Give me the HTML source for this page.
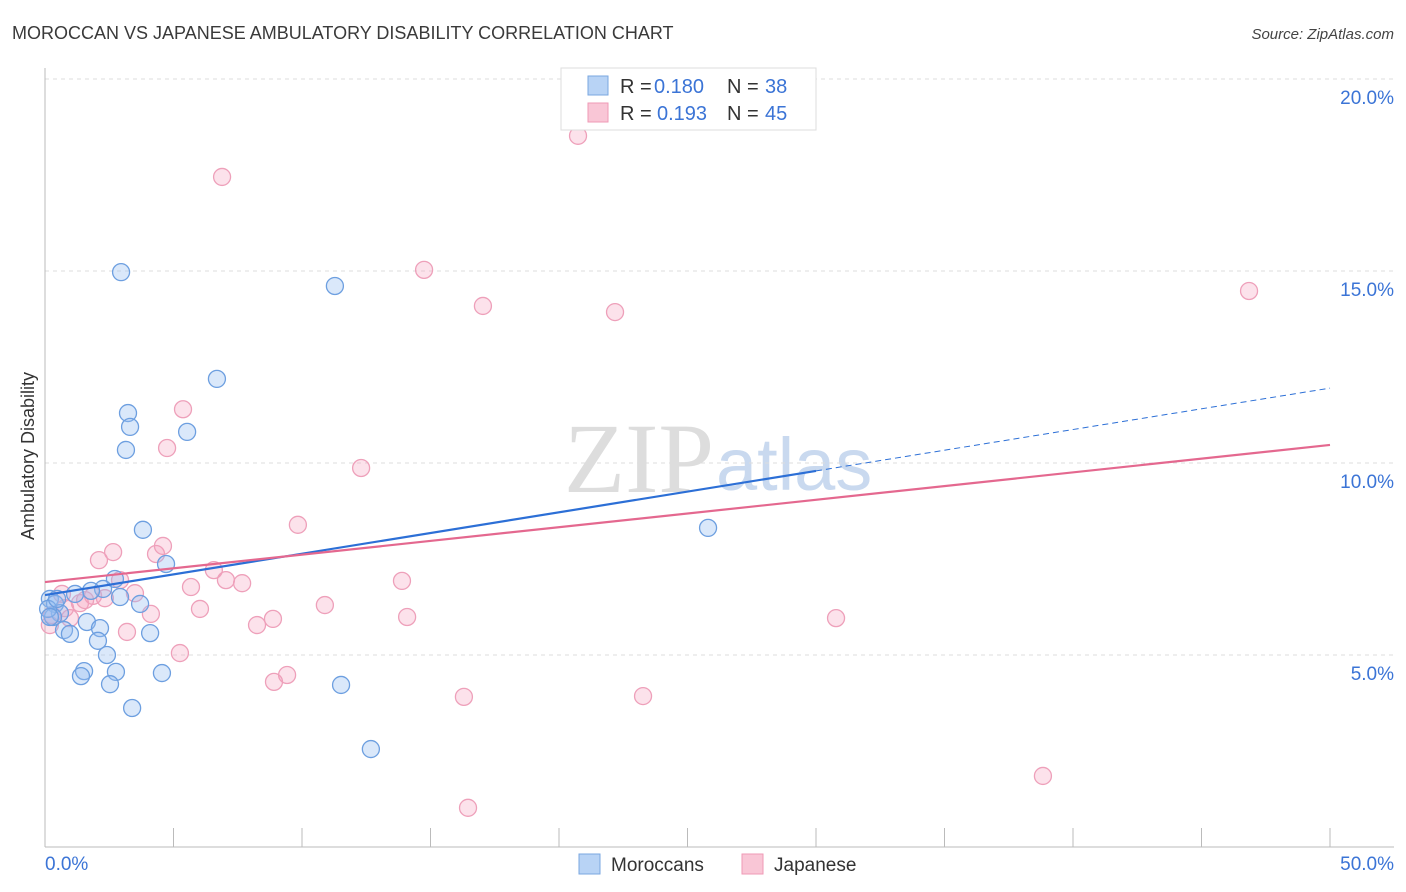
<!DOCTYPE html>
<html><head><meta charset="utf-8"><style>
body{margin:0;background:#fff;font-family:"Liberation Sans",sans-serif;}
#wrap{position:relative;width:1406px;height:892px;overflow:hidden;}
</style></head><body>
<div id="wrap">
<svg id="svg" width="1406" height="892" xmlns="http://www.w3.org/2000/svg">
<text x="12" y="39" font-size="18" fill="#3a3a3a">MOROCCAN VS JAPANESE AMBULATORY DISABILITY CORRELATION CHART</text>
<text x="1394" y="39" font-size="15" fill="#444" font-style="italic" text-anchor="end">Source: ZipAtlas.com</text>
<text x="34" y="456" font-size="18" fill="#333" text-anchor="middle" transform="rotate(-90 34 456)">Ambulatory Disability</text>
<text x="714" y="492" font-size="100" fill="#ddd" font-family="Liberation Serif,serif" text-anchor="end">ZIP</text>
<text x="716" y="490" font-size="74" fill="#c9d9ef">atlas</text>
<g id="grid"></g><g id="axes"></g><g id="pts"></g><g id="lines"></g>
<g>
<rect x="561" y="68" width="255" height="62" fill="#fff" stroke="#ddd"/>
<rect x="588" y="76" width="20" height="19" fill="#b8d3f5" stroke="#7aa7e0"/>
<rect x="588" y="103" width="20" height="19" fill="#f9c6d6" stroke="#ef9ab6"/>
<text x="620" y="93" font-size="20" fill="#333">R =</text>
<text x="654" y="93" font-size="20" fill="#3b74d6">0.180</text>
<text x="727" y="93" font-size="20" fill="#333">N =</text>
<text x="765" y="93" font-size="20" fill="#3b74d6">38</text>
<text x="620" y="120" font-size="20" fill="#333">R =</text>
<text x="657" y="120" font-size="20" fill="#3b74d6">0.193</text>
<text x="727" y="120" font-size="20" fill="#333">N =</text>
<text x="765" y="120" font-size="20" fill="#3b74d6">45</text>
</g>
<g>
<rect x="579" y="854" width="21" height="20" fill="#b8d3f5" stroke="#7aa7e0"/>
<text x="611" y="871" font-size="19" fill="#333">Moroccans</text>
<rect x="742" y="854" width="21" height="20" fill="#f9c6d6" stroke="#ef9ab6"/>
<text x="774" y="871" font-size="19" fill="#333">Japanese</text>
</g>
</svg>
</div>
<script>
const xTickLabels=["0.0%","50.0%"];
const yTicks=[5,10,15,20];
const yTickLabels=["5.0%","10.0%","15.0%","20.0%"];
const moroccanX=[2.96,11.28,6.69,3.23,3.31,5.53,3.15,3.81,4.71,25.8,2.72,2.26,1.79,1.17,0.19,0.39,0.58,0.31,0.12,3.7,1.63,2.14,0.74,0.97,2.06,4.09,2.41,1.52,1.4,2.76,4.55,2.53,11.52,3.39,12.68,0.19,0.47,2.92];
const moroccanY=[14.97,14.61,12.19,11.3,10.94,10.81,10.34,8.26,7.37,8.31,6.98,6.72,6.67,6.59,6.46,6.33,6.09,5.99,6.2,6.33,5.86,5.7,5.65,5.55,5.37,5.57,5.0,4.58,4.45,4.56,4.53,4.24,4.22,3.62,2.55,5.99,6.46,6.51];
const japaneseX=[20.74,6.89,14.75,17.04,22.18,46.85,5.37,4.75,12.3,9.84,2.65,2.1,4.32,4.59,6.57,7.04,7.67,2.92,13.89,5.68,3.5,1.87,0.66,1.36,6.03,4.12,10.89,14.09,30.78,8.87,8.25,3.19,0.97,0.19,5.25,9.42,8.91,16.3,23.27,38.83,16.46,0.27,0.78,1.56,2.33];
const japaneseY=[18.52,17.45,15.03,14.09,13.93,14.48,11.4,10.39,9.87,8.39,7.68,7.47,7.63,7.84,7.21,6.95,6.87,6.95,6.93,6.77,6.61,6.54,6.59,6.35,6.2,6.07,6.3,5.99,5.96,5.94,5.78,5.6,5.96,5.78,5.05,4.48,4.3,3.91,3.93,1.85,1.02,6.04,6.22,6.43,6.48];
const blueTrend=[6.56,11.95];
const pinkTrend=[6.9,10.47];
const X=v=>45+v*25.7, Y=v=>847-v*38.4;
const NS="http://www.w3.org/2000/svg";
function mk(t,a,p){const e=document.createElementNS(NS,t);for(const k in a)e.setAttribute(k,a[k]);p.appendChild(e);return e;}
const grid=document.getElementById('grid'),axes=document.getElementById('axes'),pts=document.getElementById('pts'),lines=document.getElementById('lines');
yTicks.forEach((v,i)=>{
 const g=mk('line',{x1:45,x2:1394,y1:Y(v),y2:Y(v),stroke:'#ddd','stroke-dasharray':'4,4'},grid);
 
 
 const t=mk('text',{x:1394,y:Y(v)+25,'font-size':19,fill:'#3b74d6','text-anchor':'end'},axes);
 t.textContent=yTickLabels[i];
 
 
});
const ya=mk('line',{x1:45,x2:45,y1:68,y2:847,stroke:'#bbb'},axes);


const xa=mk('line',{x1:45,x2:1394,y1:847,y2:847,stroke:'#bbb'},axes);


for(let i=0;i<=10;i++){const tk=mk('line',{x1:X(i*5),x2:X(i*5),y1:828,y2:847,stroke:'#bbb'},axes);
 
 }
[[0,'start',45],[1,'end',1394]].forEach(([i,a,x])=>{const t=mk('text',{x:x,y:870,'font-size':19,fill:'#3b74d6','text-anchor':a},axes);t.textContent=xTickLabels[i];
 
 });
japaneseX.forEach((v,i)=>{const c=mk('circle',{cx:X(v),cy:Y(japaneseY[i]),r:8.5,fill:'rgba(244,160,188,0.3)',stroke:'#eea0ba','stroke-width':1.3},pts);
 
 });
moroccanX.forEach((v,i)=>{const c=mk('circle',{cx:X(v),cy:Y(moroccanY[i]),r:8.5,fill:'rgba(150,190,240,0.35)',stroke:'#6d9fe0','stroke-width':1.3},pts);
 
 });
const bAt=x=>blueTrend[0]+(blueTrend[1]-blueTrend[0])*x/50;
const bl=mk('line',{x1:X(0),y1:Y(bAt(0)),x2:X(30),y2:Y(bAt(30)),stroke:'#2c6fd6','stroke-width':2.2},lines);


const bd=mk('line',{x1:X(30),y1:Y(bAt(30)),x2:X(50),y2:Y(bAt(50)),stroke:'#2c6fd6','stroke-width':1,'stroke-dasharray':'6,4'},lines);


const pl=mk('line',{x1:X(0),y1:Y(pinkTrend[0]),x2:X(50),y2:Y(pinkTrend[1]),stroke:'#e4688f','stroke-width':2.2},lines);


</script>
</body></html>
